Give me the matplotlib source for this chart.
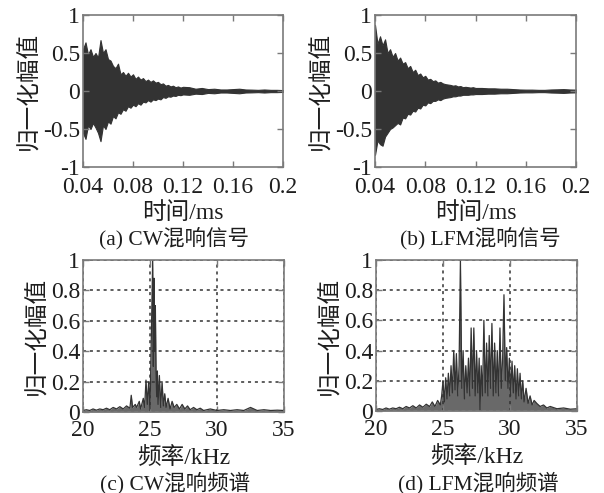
import numpy as np
import matplotlib
matplotlib.use("Agg")
import matplotlib.pyplot as plt

plt.rcParams['font.family'] = ['Liberation Serif', 'Noto Sans CJK SC']
plt.rcParams['axes.unicode_minus'] = False

# ---------------- data ----------------
# time axis (ms): fine part then coarse part
t_fine = [0.040, 0.042, 0.044, 0.046, 0.048, 0.050, 0.052, 0.054, 0.056, 0.058,
          0.060, 0.062, 0.064, 0.066, 0.068, 0.070, 0.072, 0.074, 0.076, 0.078,
          0.080, 0.082, 0.084, 0.086, 0.088, 0.090, 0.092, 0.094, 0.096, 0.098,
          0.100, 0.102, 0.104, 0.106, 0.108, 0.110, 0.112, 0.114, 0.116, 0.118, 0.120]
t_coarse = [0.125, 0.130, 0.135, 0.140, 0.145, 0.150, 0.155, 0.160, 0.165, 0.170,
            0.175, 0.180, 0.185, 0.190, 0.195, 0.200]

cw_hi = [0.55, 0.64, 0.48, 0.55, 0.45, 0.50, 0.44, 0.67, 0.50, 0.55,
         0.42, 0.40, 0.33, 0.30, 0.36, 0.22, 0.25, 0.20, 0.24, 0.19,
         0.22, 0.16, 0.19, 0.15, 0.17, 0.13, 0.15, 0.12, 0.14, 0.11,
         0.12, 0.09, 0.10, 0.07, 0.08, 0.06, 0.07, 0.05, 0.06, 0.045, 0.055,
         0.05, 0.03, 0.04, 0.025, 0.03, 0.02, 0.02, 0.025, 0.03, 0.02,
         0.018, 0.015, 0.02, 0.015, 0.015, 0.012]
cw_lo = [-0.55, -0.63, -0.45, -0.50, -0.42, -0.48, -0.55, -0.66, -0.45, -0.50,
         -0.40, -0.43, -0.33, -0.36, -0.28, -0.30, -0.24, -0.26, -0.20, -0.22,
         -0.18, -0.20, -0.16, -0.18, -0.14, -0.15, -0.12, -0.14, -0.11, -0.12,
         -0.10, -0.11, -0.08, -0.09, -0.07, -0.075, -0.06, -0.065, -0.05, -0.055, -0.045,
         -0.05, -0.035, -0.04, -0.025, -0.03, -0.02, -0.02, -0.025, -0.03, -0.02,
         -0.018, -0.015, -0.02, -0.015, -0.015, -0.012]

lfm_hi = [0.87, 0.62, 0.72, 0.60, 0.68, 0.50, 0.55, 0.45, 0.50, 0.40,
          0.44, 0.36, 0.38, 0.30, 0.33, 0.25, 0.28, 0.21, 0.23, 0.18,
          0.20, 0.15, 0.16, 0.13, 0.14, 0.11, 0.12, 0.10, 0.09, 0.085,
          0.08, 0.07, 0.075, 0.06, 0.065, 0.05, 0.055, 0.05, 0.045, 0.05, 0.04,
          0.04, 0.035, 0.035, 0.03, 0.03, 0.025, 0.02, 0.018, 0.018, 0.015,
          0.015, 0.02, 0.022, 0.025, 0.02, 0.018]
lfm_lo = [-0.84, -0.65, -0.70, -0.72, -0.60, -0.55, -0.50, -0.48, -0.45, -0.42,
          -0.44, -0.35, -0.36, -0.30, -0.31, -0.26, -0.27, -0.22, -0.23, -0.18,
          -0.19, -0.15, -0.16, -0.13, -0.13, -0.11, -0.12, -0.10, -0.09, -0.085,
          -0.08, -0.07, -0.07, -0.06, -0.06, -0.05, -0.05, -0.05, -0.045, -0.045, -0.04,
          -0.04, -0.035, -0.035, -0.03, -0.03, -0.025, -0.02, -0.018, -0.018, -0.015,
          -0.015, -0.02, -0.022, -0.025, -0.02, -0.018]

cw_freq = [20.0, 20.25, 20.5, 20.75, 21.0, 21.25, 21.5, 21.75, 22.0, 22.25,
           22.5, 22.75, 23.0, 23.25, 23.5, 23.6, 23.7, 23.9, 24.0, 24.2,
           24.3, 24.5, 24.6, 24.7, 24.8, 24.9, 25.0, 25.1, 25.2, 25.25,
           25.3, 25.35, 25.4, 25.45, 25.5, 25.55, 25.6, 25.7, 25.8, 25.9,
           26.0, 26.1, 26.2, 26.35, 26.5, 26.65, 26.8, 27.0, 27.2, 27.4,
           27.6, 27.8, 28.0, 28.25, 28.5, 28.75, 29.0, 29.5, 30.0, 30.5,
           31.0, 31.5, 32.0, 32.5, 33.0, 33.5, 34.0, 34.5, 35.0]
cw_spec = [0.01, 0.015, 0.01, 0.02, 0.012, 0.02, 0.015, 0.025, 0.015, 0.03,
           0.02, 0.035, 0.02, 0.04, 0.025, 0.11, 0.03, 0.05, 0.03, 0.07,
           0.02, 0.09, 0.03, 0.21, 0.05, 0.20, 0.02, 0.50, 1.00, 0.30,
           0.88, 0.40, 0.70, 0.27, 0.10, 0.27, 0.05, 0.24, 0.03, 0.20,
           0.04, 0.12, 0.03, 0.09, 0.02, 0.07, 0.03, 0.05, 0.02, 0.05,
           0.02, 0.04, 0.015, 0.03, 0.015, 0.025, 0.01, 0.02, 0.01, 0.015,
           0.01, 0.015, 0.01, 0.03, 0.01, 0.015, 0.01, 0.012, 0.01]

lfm_freq = [20.0, 20.25, 20.5, 20.75, 21.0, 21.25, 21.5, 21.75, 22.0, 22.25,
            22.5, 22.75, 23.0, 23.25, 23.5, 23.75, 24.0, 24.2, 24.4, 24.6,
            24.8, 24.9, 25.0, 25.1, 25.2, 25.3, 25.4, 25.5, 25.6, 25.7,
            25.8, 25.9, 26.0, 26.1, 26.2, 26.3, 26.4, 26.5, 26.6, 26.7,
            26.8, 26.9, 27.0, 27.1, 27.2, 27.3, 27.4, 27.5, 27.6, 27.7,
            27.76, 27.85, 27.95, 28.05, 28.15, 28.25, 28.35, 28.45, 28.55, 28.65,
            28.75, 28.85, 28.95, 29.05, 29.15, 29.25, 29.35, 29.45, 29.55, 29.65,
            29.75, 29.85, 29.95, 30.05, 30.15, 30.25, 30.35, 30.45, 30.55, 30.65,
            30.75, 30.85, 30.95, 31.05, 31.2, 31.35, 31.5, 31.65, 31.8, 32.0,
            32.25, 32.5, 32.75, 33.0, 33.5, 34.0, 34.5, 35.0]
lfm_spec = [0.01, 0.015, 0.01, 0.02, 0.012, 0.02, 0.015, 0.025, 0.015, 0.03,
            0.02, 0.035, 0.02, 0.04, 0.025, 0.045, 0.03, 0.06, 0.03, 0.07,
            0.04, 0.10, 0.20, 0.06, 0.22, 0.08, 0.25, 0.10, 0.30, 0.12,
            0.40, 0.14, 0.38, 0.10, 0.30, 1.00, 0.15, 0.40, 0.08, 0.30,
            0.12, 0.35, 0.10, 0.55, 0.15, 0.55, 0.10, 0.40, 0.12, 0.35,
            0.00, 0.30, 0.10, 0.60, 0.12, 0.45, 0.10, 0.50, 0.15, 0.58,
            0.10, 0.45, 0.12, 0.40, 0.10, 0.55, 0.15, 0.35, 0.77, 0.20,
            0.42, 0.15, 0.35, 0.10, 0.33, 0.12, 0.30, 0.08, 0.28, 0.10,
            0.25, 0.08, 0.20, 0.06, 0.15, 0.05, 0.10, 0.04, 0.07, 0.05,
            0.03, 0.04, 0.02, 0.03, 0.015, 0.02, 0.012, 0.015]

t_ticks = [0.04, 0.08, 0.12, 0.16, 0.2]
t_ticklabels = ['0.04', '0.08', '0.12', '0.16', '0.2']
amp_ticks = [-1, -0.5, 0, 0.5, 1]
amp_ticklabels = ['-1', '-0.5', '0', '0.5', '1']
f_ticks = [20, 25, 30, 35]
f_ticklabels = ['20', '25', '30', '35']
spec_ticks = [0, 0.2, 0.4, 0.6, 0.8, 1]
spec_ticklabels = ['0', '0.2', '0.4', '0.6', '0.8', '1']

ylabel = '归一化幅值'
captions = ['(a) CW混响信号', '(b) LFM混响信号', '(c) CW混响频谱', '(d) LFM混响频谱']

# ---------------- figure ----------------
fig = plt.figure(figsize=(6.04, 4.93), dpi=100)
W, H = 604, 493

def ax_at(l, t, r, b):
    return fig.add_axes([l / W, 1 - b / H, (r - l) / W, (b - t) / H])

ax_a = ax_at(83, 15, 283, 167)
ax_b = ax_at(375, 15, 576, 167)
ax_c = ax_at(83, 260, 284, 412)
ax_d = ax_at(376, 260, 577, 411)

line_col = '#333333'
frame_col = '#7a7a7a'
txt_col = '#1e1e1e'
fs = 17

t_all = t_fine + t_coarse

def style(ax, xpad):
    for s in ax.spines.values():
        s.set_color(frame_col)
        s.set_linewidth(1.2)
    ax.tick_params(direction='in', length=4, width=1, colors=frame_col,
                   top=True, right=True, labelsize=fs, labelcolor=txt_col, pad=2)
    ax.tick_params(axis='x', pad=xpad)

for ax, hi, lo in [(ax_a, cw_hi, cw_lo), (ax_b, lfm_hi, lfm_lo)]:
    ax.fill_between(t_all, lo, hi, color=line_col, lw=0.8, edgecolor=line_col)
    ax.set_xlim(0.04, 0.2)
    ax.set_ylim(-1, 1)
    ax.set_xticks(t_ticks)
    ax.set_xticklabels(t_ticklabels)
    ax.set_yticks(amp_ticks)
    ax.set_yticklabels(amp_ticklabels)
    style(ax, 7)
    ax.set_xlabel('时间/ms', fontsize=fs, color=txt_col, labelpad=3)

for ax, fr, sp in [(ax_c, cw_freq, cw_spec), (ax_d, lfm_freq, lfm_spec)]:
    ax.fill_between(fr, 0, sp, color='#444444', alpha=0.8, lw=0)
    ax.plot(fr, sp, color=line_col, lw=0.9)
    ax.set_xlim(20, 35)
    ax.set_ylim(0, 1)
    ax.set_xticks(f_ticks)
    ax.set_xticklabels(f_ticklabels)
    ax.set_yticks(spec_ticks)
    ax.set_yticklabels(spec_ticklabels)
    ax.grid(True, color='#333333', linestyle=(0, (2, 2.5)), linewidth=1.1)
    style(ax, 6)
    ax.set_xlabel('频率/kHz', fontsize=fs, color=txt_col, labelpad=4)

for ax in [ax_a, ax_b, ax_c, ax_d]:
    ax.set_ylabel(ylabel, fontsize=fs, color=txt_col, labelpad=2)

cap_y = [238, 238, 483, 483]
cap_x = [174, 480, 175, 478]
for c, x, y in zip(captions, cap_x, cap_y):
    fig.text(x / W, 1 - y / H, c, ha='center', va='center', fontsize=15.5, color=txt_col)

fig.savefig('out.png', dpi=100)
